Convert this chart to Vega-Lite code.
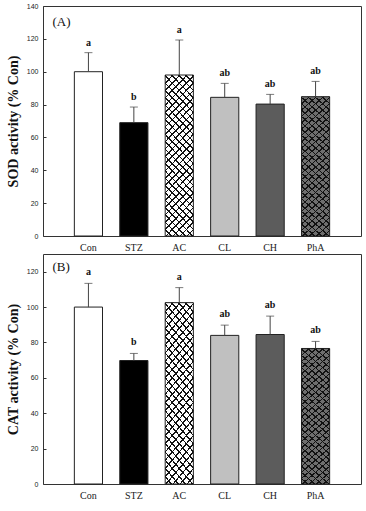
{
  "$schema": "https://vega.github.io/schema/vega-lite/v6.json",
  "padding": {"left": 5, "top": 1, "right": 3, "bottom": 3},
  "spacing": 0,
  "datasets": {
    "enzymes": [
      {"panel": "A", "group": "Con", "mean": 100, "upper": 111.6, "letter": "a"},
      {"panel": "A", "group": "STZ", "mean": 69, "upper": 78.5, "letter": "b"},
      {"panel": "A", "group": "AC", "mean": 98, "upper": 119.3, "letter": "a"},
      {"panel": "A", "group": "CL", "mean": 84.4, "upper": 92.9, "letter": "ab"},
      {"panel": "A", "group": "CH", "mean": 80.3, "upper": 86.2, "letter": "ab"},
      {"panel": "A", "group": "PhA", "mean": 84.8, "upper": 94.1, "letter": "ab"},
      {"panel": "B", "group": "Con", "mean": 100, "upper": 113.4, "letter": "a"},
      {"panel": "B", "group": "STZ", "mean": 69.8, "upper": 73.8, "letter": "b"},
      {"panel": "B", "group": "AC", "mean": 102.5, "upper": 111, "letter": "a"},
      {"panel": "B", "group": "CL", "mean": 84, "upper": 89.8, "letter": "ab"},
      {"panel": "B", "group": "CH", "mean": 84.5, "upper": 94.9, "letter": "ab"},
      {"panel": "B", "group": "PhA", "mean": 76.6, "upper": 80.6, "letter": "ab"}
    ]
  },
  "config": {
    "view": {"stroke": "#333", "strokeWidth": 1},
    "axis": {"grid": false, "domain": false, "labelColor": "#222", "titleColor": "#111"},
    "axisX": {"ticks": false, "labelFont": "Liberation Serif", "labelFontSize": 10, "labelPadding": 6, "labelAngle": 0},
    "axisY": {"labelFont": "Liberation Sans", "labelFontSize": 7, "labelOverlap": false, "labelBound": false, "tickSize": -3, "tickColor": "#333", "labelPadding": 8, "titleFont": "Liberation Serif", "titleFontSize": 14, "titleFontWeight": "bold", "titlePadding": 6},
    "text": {"font": "Liberation Serif", "color": "#111"}
  },
  "vconcat": [
    {
      "width": 318,
      "height": 230,
      "data": {"name": "enzymes"},
      "transform": [{"filter": "datum.panel === 'A'"}],
      "encoding": {
        "x": {"field": "group", "type": "nominal", "sort": ["Con", "STZ", "AC", "CL", "CH", "PhA"], "scale": {"paddingInner": 0.38, "paddingOuter": 0.69}, "axis": {"title": null}}
      },
      "layer": [
        {
          "mark": {"type": "bar", "stroke": "#222", "strokeWidth": 1},
          "encoding": {
            "y": {"field": "mean", "type": "quantitative", "scale": {"domain": [0, 140]}, "axis": {"title": "SOD activity (% Con)", "values": [0, 20, 40, 60, 80, 100, 120, 140], "labelOverlap": false}},
            "fill": {"field": "group", "type": "nominal", "scale": {"domain": ["Con", "STZ", "AC", "CL", "CH", "PhA"], "range": ["#ffffff", "#000000", "#ffffff", "#c0c0c0", "#5c5c5c", "#6e6e6e"]}, "legend": null}
          }
        },
        {
          "transform": [{"filter": "datum.group === 'AC' || datum.group === 'PhA'"}],
          "mark": {"type": "bar", "strokeWidth": 0, "fill": {"gradient": "linear", "x1": 0, "y1": 0, "x2": 0.208, "y2": 1.144, "stops": [
            {"offset": 0, "color": "#111"}, {"offset": 0.0085, "color": "#111"}, {"offset": 0.0085, "color": "rgba(0,0,0,0)"}, {"offset": 0.03846, "color": "rgba(0,0,0,0)"},
            {"offset": 0.03846, "color": "#111"}, {"offset": 0.04696, "color": "#111"}, {"offset": 0.04696, "color": "rgba(0,0,0,0)"}, {"offset": 0.07692, "color": "rgba(0,0,0,0)"},
            {"offset": 0.07692, "color": "#111"}, {"offset": 0.08542, "color": "#111"}, {"offset": 0.08542, "color": "rgba(0,0,0,0)"}, {"offset": 0.11538, "color": "rgba(0,0,0,0)"},
            {"offset": 0.11538, "color": "#111"}, {"offset": 0.12388, "color": "#111"}, {"offset": 0.12388, "color": "rgba(0,0,0,0)"}, {"offset": 0.15385, "color": "rgba(0,0,0,0)"},
            {"offset": 0.15385, "color": "#111"}, {"offset": 0.16235, "color": "#111"}, {"offset": 0.16235, "color": "rgba(0,0,0,0)"}, {"offset": 0.19231, "color": "rgba(0,0,0,0)"},
            {"offset": 0.19231, "color": "#111"}, {"offset": 0.20081, "color": "#111"}, {"offset": 0.20081, "color": "rgba(0,0,0,0)"}, {"offset": 0.23077, "color": "rgba(0,0,0,0)"},
            {"offset": 0.23077, "color": "#111"}, {"offset": 0.23927, "color": "#111"}, {"offset": 0.23927, "color": "rgba(0,0,0,0)"}, {"offset": 0.26923, "color": "rgba(0,0,0,0)"},
            {"offset": 0.26923, "color": "#111"}, {"offset": 0.27773, "color": "#111"}, {"offset": 0.27773, "color": "rgba(0,0,0,0)"}, {"offset": 0.30769, "color": "rgba(0,0,0,0)"},
            {"offset": 0.30769, "color": "#111"}, {"offset": 0.31619, "color": "#111"}, {"offset": 0.31619, "color": "rgba(0,0,0,0)"}, {"offset": 0.34615, "color": "rgba(0,0,0,0)"},
            {"offset": 0.34615, "color": "#111"}, {"offset": 0.35465, "color": "#111"}, {"offset": 0.35465, "color": "rgba(0,0,0,0)"}, {"offset": 0.38462, "color": "rgba(0,0,0,0)"},
            {"offset": 0.38462, "color": "#111"}, {"offset": 0.39312, "color": "#111"}, {"offset": 0.39312, "color": "rgba(0,0,0,0)"}, {"offset": 0.42308, "color": "rgba(0,0,0,0)"},
            {"offset": 0.42308, "color": "#111"}, {"offset": 0.43158, "color": "#111"}, {"offset": 0.43158, "color": "rgba(0,0,0,0)"}, {"offset": 0.46154, "color": "rgba(0,0,0,0)"},
            {"offset": 0.46154, "color": "#111"}, {"offset": 0.47004, "color": "#111"}, {"offset": 0.47004, "color": "rgba(0,0,0,0)"}, {"offset": 0.5, "color": "rgba(0,0,0,0)"},
            {"offset": 0.5, "color": "#111"}, {"offset": 0.5085, "color": "#111"}, {"offset": 0.5085, "color": "rgba(0,0,0,0)"}, {"offset": 0.53846, "color": "rgba(0,0,0,0)"},
            {"offset": 0.53846, "color": "#111"}, {"offset": 0.54696, "color": "#111"}, {"offset": 0.54696, "color": "rgba(0,0,0,0)"}, {"offset": 0.57692, "color": "rgba(0,0,0,0)"},
            {"offset": 0.57692, "color": "#111"}, {"offset": 0.58542, "color": "#111"}, {"offset": 0.58542, "color": "rgba(0,0,0,0)"}, {"offset": 0.61538, "color": "rgba(0,0,0,0)"},
            {"offset": 0.61538, "color": "#111"}, {"offset": 0.62388, "color": "#111"}, {"offset": 0.62388, "color": "rgba(0,0,0,0)"}, {"offset": 0.65385, "color": "rgba(0,0,0,0)"},
            {"offset": 0.65385, "color": "#111"}, {"offset": 0.66235, "color": "#111"}, {"offset": 0.66235, "color": "rgba(0,0,0,0)"}, {"offset": 0.69231, "color": "rgba(0,0,0,0)"},
            {"offset": 0.69231, "color": "#111"}, {"offset": 0.70081, "color": "#111"}, {"offset": 0.70081, "color": "rgba(0,0,0,0)"}, {"offset": 0.73077, "color": "rgba(0,0,0,0)"},
            {"offset": 0.73077, "color": "#111"}, {"offset": 0.73927, "color": "#111"}, {"offset": 0.73927, "color": "rgba(0,0,0,0)"}, {"offset": 0.76923, "color": "rgba(0,0,0,0)"},
            {"offset": 0.76923, "color": "#111"}, {"offset": 0.77773, "color": "#111"}, {"offset": 0.77773, "color": "rgba(0,0,0,0)"}, {"offset": 0.80769, "color": "rgba(0,0,0,0)"},
            {"offset": 0.80769, "color": "#111"}, {"offset": 0.81619, "color": "#111"}, {"offset": 0.81619, "color": "rgba(0,0,0,0)"}, {"offset": 0.84615, "color": "rgba(0,0,0,0)"},
            {"offset": 0.84615, "color": "#111"}, {"offset": 0.85465, "color": "#111"}, {"offset": 0.85465, "color": "rgba(0,0,0,0)"}, {"offset": 0.88462, "color": "rgba(0,0,0,0)"},
            {"offset": 0.88462, "color": "#111"}, {"offset": 0.89312, "color": "#111"}, {"offset": 0.89312, "color": "rgba(0,0,0,0)"}, {"offset": 0.92308, "color": "rgba(0,0,0,0)"},
            {"offset": 0.92308, "color": "#111"}, {"offset": 0.93158, "color": "#111"}, {"offset": 0.93158, "color": "rgba(0,0,0,0)"}, {"offset": 0.96154, "color": "rgba(0,0,0,0)"},
            {"offset": 0.96154, "color": "#111"}, {"offset": 0.97004, "color": "#111"}, {"offset": 0.97004, "color": "rgba(0,0,0,0)"}, {"offset": 1, "color": "rgba(0,0,0,0)"}
          ]}},
          "encoding": {"y": {"field": "mean", "type": "quantitative", "axis": {"title": "SOD activity (% Con)", "values": [0, 20, 40, 60, 80, 100, 120, 140], "labelOverlap": false}}}
        },
        {
          "transform": [{"filter": "datum.group === 'AC' || datum.group === 'PhA'"}],
          "mark": {"type": "bar", "strokeWidth": 0, "fill": {"gradient": "linear", "x1": 1, "y1": 0, "x2": 0.792, "y2": 1.144, "stops": [
            {"offset": 0, "color": "#111"}, {"offset": 0.0085, "color": "#111"}, {"offset": 0.0085, "color": "rgba(0,0,0,0)"}, {"offset": 0.03846, "color": "rgba(0,0,0,0)"},
            {"offset": 0.03846, "color": "#111"}, {"offset": 0.04696, "color": "#111"}, {"offset": 0.04696, "color": "rgba(0,0,0,0)"}, {"offset": 0.07692, "color": "rgba(0,0,0,0)"},
            {"offset": 0.07692, "color": "#111"}, {"offset": 0.08542, "color": "#111"}, {"offset": 0.08542, "color": "rgba(0,0,0,0)"}, {"offset": 0.11538, "color": "rgba(0,0,0,0)"},
            {"offset": 0.11538, "color": "#111"}, {"offset": 0.12388, "color": "#111"}, {"offset": 0.12388, "color": "rgba(0,0,0,0)"}, {"offset": 0.15385, "color": "rgba(0,0,0,0)"},
            {"offset": 0.15385, "color": "#111"}, {"offset": 0.16235, "color": "#111"}, {"offset": 0.16235, "color": "rgba(0,0,0,0)"}, {"offset": 0.19231, "color": "rgba(0,0,0,0)"},
            {"offset": 0.19231, "color": "#111"}, {"offset": 0.20081, "color": "#111"}, {"offset": 0.20081, "color": "rgba(0,0,0,0)"}, {"offset": 0.23077, "color": "rgba(0,0,0,0)"},
            {"offset": 0.23077, "color": "#111"}, {"offset": 0.23927, "color": "#111"}, {"offset": 0.23927, "color": "rgba(0,0,0,0)"}, {"offset": 0.26923, "color": "rgba(0,0,0,0)"},
            {"offset": 0.26923, "color": "#111"}, {"offset": 0.27773, "color": "#111"}, {"offset": 0.27773, "color": "rgba(0,0,0,0)"}, {"offset": 0.30769, "color": "rgba(0,0,0,0)"},
            {"offset": 0.30769, "color": "#111"}, {"offset": 0.31619, "color": "#111"}, {"offset": 0.31619, "color": "rgba(0,0,0,0)"}, {"offset": 0.34615, "color": "rgba(0,0,0,0)"},
            {"offset": 0.34615, "color": "#111"}, {"offset": 0.35465, "color": "#111"}, {"offset": 0.35465, "color": "rgba(0,0,0,0)"}, {"offset": 0.38462, "color": "rgba(0,0,0,0)"},
            {"offset": 0.38462, "color": "#111"}, {"offset": 0.39312, "color": "#111"}, {"offset": 0.39312, "color": "rgba(0,0,0,0)"}, {"offset": 0.42308, "color": "rgba(0,0,0,0)"},
            {"offset": 0.42308, "color": "#111"}, {"offset": 0.43158, "color": "#111"}, {"offset": 0.43158, "color": "rgba(0,0,0,0)"}, {"offset": 0.46154, "color": "rgba(0,0,0,0)"},
            {"offset": 0.46154, "color": "#111"}, {"offset": 0.47004, "color": "#111"}, {"offset": 0.47004, "color": "rgba(0,0,0,0)"}, {"offset": 0.5, "color": "rgba(0,0,0,0)"},
            {"offset": 0.5, "color": "#111"}, {"offset": 0.5085, "color": "#111"}, {"offset": 0.5085, "color": "rgba(0,0,0,0)"}, {"offset": 0.53846, "color": "rgba(0,0,0,0)"},
            {"offset": 0.53846, "color": "#111"}, {"offset": 0.54696, "color": "#111"}, {"offset": 0.54696, "color": "rgba(0,0,0,0)"}, {"offset": 0.57692, "color": "rgba(0,0,0,0)"},
            {"offset": 0.57692, "color": "#111"}, {"offset": 0.58542, "color": "#111"}, {"offset": 0.58542, "color": "rgba(0,0,0,0)"}, {"offset": 0.61538, "color": "rgba(0,0,0,0)"},
            {"offset": 0.61538, "color": "#111"}, {"offset": 0.62388, "color": "#111"}, {"offset": 0.62388, "color": "rgba(0,0,0,0)"}, {"offset": 0.65385, "color": "rgba(0,0,0,0)"},
            {"offset": 0.65385, "color": "#111"}, {"offset": 0.66235, "color": "#111"}, {"offset": 0.66235, "color": "rgba(0,0,0,0)"}, {"offset": 0.69231, "color": "rgba(0,0,0,0)"},
            {"offset": 0.69231, "color": "#111"}, {"offset": 0.70081, "color": "#111"}, {"offset": 0.70081, "color": "rgba(0,0,0,0)"}, {"offset": 0.73077, "color": "rgba(0,0,0,0)"},
            {"offset": 0.73077, "color": "#111"}, {"offset": 0.73927, "color": "#111"}, {"offset": 0.73927, "color": "rgba(0,0,0,0)"}, {"offset": 0.76923, "color": "rgba(0,0,0,0)"},
            {"offset": 0.76923, "color": "#111"}, {"offset": 0.77773, "color": "#111"}, {"offset": 0.77773, "color": "rgba(0,0,0,0)"}, {"offset": 0.80769, "color": "rgba(0,0,0,0)"},
            {"offset": 0.80769, "color": "#111"}, {"offset": 0.81619, "color": "#111"}, {"offset": 0.81619, "color": "rgba(0,0,0,0)"}, {"offset": 0.84615, "color": "rgba(0,0,0,0)"},
            {"offset": 0.84615, "color": "#111"}, {"offset": 0.85465, "color": "#111"}, {"offset": 0.85465, "color": "rgba(0,0,0,0)"}, {"offset": 0.88462, "color": "rgba(0,0,0,0)"},
            {"offset": 0.88462, "color": "#111"}, {"offset": 0.89312, "color": "#111"}, {"offset": 0.89312, "color": "rgba(0,0,0,0)"}, {"offset": 0.92308, "color": "rgba(0,0,0,0)"},
            {"offset": 0.92308, "color": "#111"}, {"offset": 0.93158, "color": "#111"}, {"offset": 0.93158, "color": "rgba(0,0,0,0)"}, {"offset": 0.96154, "color": "rgba(0,0,0,0)"},
            {"offset": 0.96154, "color": "#111"}, {"offset": 0.97004, "color": "#111"}, {"offset": 0.97004, "color": "rgba(0,0,0,0)"}, {"offset": 1, "color": "rgba(0,0,0,0)"}
          ]}},
          "encoding": {"y": {"field": "mean", "type": "quantitative", "axis": {"title": "SOD activity (% Con)", "values": [0, 20, 40, 60, 80, 100, 120, 140], "labelOverlap": false}}}
        },
        {
          "mark": {"type": "rule", "color": "#444", "strokeWidth": 1},
          "encoding": {"y": {"field": "mean", "type": "quantitative", "axis": {"title": "SOD activity (% Con)", "values": [0, 20, 40, 60, 80, 100, 120, 140], "labelOverlap": false}}, "y2": {"field": "upper"}}
        },
        {
          "mark": {"type": "tick", "orient": "horizontal", "size": 8, "thickness": 1, "color": "#444"},
          "encoding": {"y": {"field": "upper", "type": "quantitative", "axis": {"title": "SOD activity (% Con)", "values": [0, 20, 40, 60, 80, 100, 120, 140], "labelOverlap": false}}}
        },
        {
          "mark": {"type": "text", "fontSize": 10, "fontWeight": "bold", "baseline": "alphabetic", "dy": -7},
          "encoding": {"y": {"field": "upper", "type": "quantitative", "axis": {"title": "SOD activity (% Con)", "values": [0, 20, 40, 60, 80, 100, 120, 140], "labelOverlap": false}}, "text": {"field": "letter"}}
        },
        {
          "data": {"values": [{"tag": "(A)"}]},
          "mark": {"type": "text", "fontSize": 13, "fontWeight": "normal", "align": "left", "baseline": "middle", "dx": -36},
          "encoding": {"x": {"datum": "Con"}, "y": {"datum": 130, "type": "quantitative", "axis": {"title": "SOD activity (% Con)", "values": [0, 20, 40, 60, 80, 100, 120, 140], "labelOverlap": false}}, "text": {"field": "tag"}}
        }
      ]
    },
    {
      "width": 318,
      "height": 230,
      "data": {"name": "enzymes"},
      "transform": [{"filter": "datum.panel === 'B'"}],
      "encoding": {
        "x": {"field": "group", "type": "nominal", "sort": ["Con", "STZ", "AC", "CL", "CH", "PhA"], "scale": {"paddingInner": 0.38, "paddingOuter": 0.69}, "axis": {"title": null}}
      },
      "layer": [
        {
          "mark": {"type": "bar", "stroke": "#222", "strokeWidth": 1},
          "encoding": {
            "y": {"field": "mean", "type": "quantitative", "scale": {"domain": [0, 130]}, "axis": {"title": "CAT activity (% Con)", "values": [0, 20, 40, 60, 80, 100, 120], "labelOverlap": false}},
            "fill": {"field": "group", "type": "nominal", "scale": {"domain": ["Con", "STZ", "AC", "CL", "CH", "PhA"], "range": ["#ffffff", "#000000", "#ffffff", "#c0c0c0", "#5c5c5c", "#6e6e6e"]}, "legend": null}
          }
        },
        {
          "transform": [{"filter": "datum.group === 'AC' || datum.group === 'PhA'"}],
          "mark": {"type": "bar", "strokeWidth": 0, "fill": {"gradient": "linear", "x1": 0, "y1": 0, "x2": 0.208, "y2": 1.144, "stops": [
            {"offset": 0, "color": "#111"}, {"offset": 0.0085, "color": "#111"}, {"offset": 0.0085, "color": "rgba(0,0,0,0)"}, {"offset": 0.03846, "color": "rgba(0,0,0,0)"},
            {"offset": 0.03846, "color": "#111"}, {"offset": 0.04696, "color": "#111"}, {"offset": 0.04696, "color": "rgba(0,0,0,0)"}, {"offset": 0.07692, "color": "rgba(0,0,0,0)"},
            {"offset": 0.07692, "color": "#111"}, {"offset": 0.08542, "color": "#111"}, {"offset": 0.08542, "color": "rgba(0,0,0,0)"}, {"offset": 0.11538, "color": "rgba(0,0,0,0)"},
            {"offset": 0.11538, "color": "#111"}, {"offset": 0.12388, "color": "#111"}, {"offset": 0.12388, "color": "rgba(0,0,0,0)"}, {"offset": 0.15385, "color": "rgba(0,0,0,0)"},
            {"offset": 0.15385, "color": "#111"}, {"offset": 0.16235, "color": "#111"}, {"offset": 0.16235, "color": "rgba(0,0,0,0)"}, {"offset": 0.19231, "color": "rgba(0,0,0,0)"},
            {"offset": 0.19231, "color": "#111"}, {"offset": 0.20081, "color": "#111"}, {"offset": 0.20081, "color": "rgba(0,0,0,0)"}, {"offset": 0.23077, "color": "rgba(0,0,0,0)"},
            {"offset": 0.23077, "color": "#111"}, {"offset": 0.23927, "color": "#111"}, {"offset": 0.23927, "color": "rgba(0,0,0,0)"}, {"offset": 0.26923, "color": "rgba(0,0,0,0)"},
            {"offset": 0.26923, "color": "#111"}, {"offset": 0.27773, "color": "#111"}, {"offset": 0.27773, "color": "rgba(0,0,0,0)"}, {"offset": 0.30769, "color": "rgba(0,0,0,0)"},
            {"offset": 0.30769, "color": "#111"}, {"offset": 0.31619, "color": "#111"}, {"offset": 0.31619, "color": "rgba(0,0,0,0)"}, {"offset": 0.34615, "color": "rgba(0,0,0,0)"},
            {"offset": 0.34615, "color": "#111"}, {"offset": 0.35465, "color": "#111"}, {"offset": 0.35465, "color": "rgba(0,0,0,0)"}, {"offset": 0.38462, "color": "rgba(0,0,0,0)"},
            {"offset": 0.38462, "color": "#111"}, {"offset": 0.39312, "color": "#111"}, {"offset": 0.39312, "color": "rgba(0,0,0,0)"}, {"offset": 0.42308, "color": "rgba(0,0,0,0)"},
            {"offset": 0.42308, "color": "#111"}, {"offset": 0.43158, "color": "#111"}, {"offset": 0.43158, "color": "rgba(0,0,0,0)"}, {"offset": 0.46154, "color": "rgba(0,0,0,0)"},
            {"offset": 0.46154, "color": "#111"}, {"offset": 0.47004, "color": "#111"}, {"offset": 0.47004, "color": "rgba(0,0,0,0)"}, {"offset": 0.5, "color": "rgba(0,0,0,0)"},
            {"offset": 0.5, "color": "#111"}, {"offset": 0.5085, "color": "#111"}, {"offset": 0.5085, "color": "rgba(0,0,0,0)"}, {"offset": 0.53846, "color": "rgba(0,0,0,0)"},
            {"offset": 0.53846, "color": "#111"}, {"offset": 0.54696, "color": "#111"}, {"offset": 0.54696, "color": "rgba(0,0,0,0)"}, {"offset": 0.57692, "color": "rgba(0,0,0,0)"},
            {"offset": 0.57692, "color": "#111"}, {"offset": 0.58542, "color": "#111"}, {"offset": 0.58542, "color": "rgba(0,0,0,0)"}, {"offset": 0.61538, "color": "rgba(0,0,0,0)"},
            {"offset": 0.61538, "color": "#111"}, {"offset": 0.62388, "color": "#111"}, {"offset": 0.62388, "color": "rgba(0,0,0,0)"}, {"offset": 0.65385, "color": "rgba(0,0,0,0)"},
            {"offset": 0.65385, "color": "#111"}, {"offset": 0.66235, "color": "#111"}, {"offset": 0.66235, "color": "rgba(0,0,0,0)"}, {"offset": 0.69231, "color": "rgba(0,0,0,0)"},
            {"offset": 0.69231, "color": "#111"}, {"offset": 0.70081, "color": "#111"}, {"offset": 0.70081, "color": "rgba(0,0,0,0)"}, {"offset": 0.73077, "color": "rgba(0,0,0,0)"},
            {"offset": 0.73077, "color": "#111"}, {"offset": 0.73927, "color": "#111"}, {"offset": 0.73927, "color": "rgba(0,0,0,0)"}, {"offset": 0.76923, "color": "rgba(0,0,0,0)"},
            {"offset": 0.76923, "color": "#111"}, {"offset": 0.77773, "color": "#111"}, {"offset": 0.77773, "color": "rgba(0,0,0,0)"}, {"offset": 0.80769, "color": "rgba(0,0,0,0)"},
            {"offset": 0.80769, "color": "#111"}, {"offset": 0.81619, "color": "#111"}, {"offset": 0.81619, "color": "rgba(0,0,0,0)"}, {"offset": 0.84615, "color": "rgba(0,0,0,0)"},
            {"offset": 0.84615, "color": "#111"}, {"offset": 0.85465, "color": "#111"}, {"offset": 0.85465, "color": "rgba(0,0,0,0)"}, {"offset": 0.88462, "color": "rgba(0,0,0,0)"},
            {"offset": 0.88462, "color": "#111"}, {"offset": 0.89312, "color": "#111"}, {"offset": 0.89312, "color": "rgba(0,0,0,0)"}, {"offset": 0.92308, "color": "rgba(0,0,0,0)"},
            {"offset": 0.92308, "color": "#111"}, {"offset": 0.93158, "color": "#111"}, {"offset": 0.93158, "color": "rgba(0,0,0,0)"}, {"offset": 0.96154, "color": "rgba(0,0,0,0)"},
            {"offset": 0.96154, "color": "#111"}, {"offset": 0.97004, "color": "#111"}, {"offset": 0.97004, "color": "rgba(0,0,0,0)"}, {"offset": 1, "color": "rgba(0,0,0,0)"}
          ]}},
          "encoding": {"y": {"field": "mean", "type": "quantitative", "axis": {"title": "CAT activity (% Con)", "values": [0, 20, 40, 60, 80, 100, 120], "labelOverlap": false}}}
        },
        {
          "transform": [{"filter": "datum.group === 'AC' || datum.group === 'PhA'"}],
          "mark": {"type": "bar", "strokeWidth": 0, "fill": {"gradient": "linear", "x1": 1, "y1": 0, "x2": 0.792, "y2": 1.144, "stops": [
            {"offset": 0, "color": "#111"}, {"offset": 0.0085, "color": "#111"}, {"offset": 0.0085, "color": "rgba(0,0,0,0)"}, {"offset": 0.03846, "color": "rgba(0,0,0,0)"},
            {"offset": 0.03846, "color": "#111"}, {"offset": 0.04696, "color": "#111"}, {"offset": 0.04696, "color": "rgba(0,0,0,0)"}, {"offset": 0.07692, "color": "rgba(0,0,0,0)"},
            {"offset": 0.07692, "color": "#111"}, {"offset": 0.08542, "color": "#111"}, {"offset": 0.08542, "color": "rgba(0,0,0,0)"}, {"offset": 0.11538, "color": "rgba(0,0,0,0)"},
            {"offset": 0.11538, "color": "#111"}, {"offset": 0.12388, "color": "#111"}, {"offset": 0.12388, "color": "rgba(0,0,0,0)"}, {"offset": 0.15385, "color": "rgba(0,0,0,0)"},
            {"offset": 0.15385, "color": "#111"}, {"offset": 0.16235, "color": "#111"}, {"offset": 0.16235, "color": "rgba(0,0,0,0)"}, {"offset": 0.19231, "color": "rgba(0,0,0,0)"},
            {"offset": 0.19231, "color": "#111"}, {"offset": 0.20081, "color": "#111"}, {"offset": 0.20081, "color": "rgba(0,0,0,0)"}, {"offset": 0.23077, "color": "rgba(0,0,0,0)"},
            {"offset": 0.23077, "color": "#111"}, {"offset": 0.23927, "color": "#111"}, {"offset": 0.23927, "color": "rgba(0,0,0,0)"}, {"offset": 0.26923, "color": "rgba(0,0,0,0)"},
            {"offset": 0.26923, "color": "#111"}, {"offset": 0.27773, "color": "#111"}, {"offset": 0.27773, "color": "rgba(0,0,0,0)"}, {"offset": 0.30769, "color": "rgba(0,0,0,0)"},
            {"offset": 0.30769, "color": "#111"}, {"offset": 0.31619, "color": "#111"}, {"offset": 0.31619, "color": "rgba(0,0,0,0)"}, {"offset": 0.34615, "color": "rgba(0,0,0,0)"},
            {"offset": 0.34615, "color": "#111"}, {"offset": 0.35465, "color": "#111"}, {"offset": 0.35465, "color": "rgba(0,0,0,0)"}, {"offset": 0.38462, "color": "rgba(0,0,0,0)"},
            {"offset": 0.38462, "color": "#111"}, {"offset": 0.39312, "color": "#111"}, {"offset": 0.39312, "color": "rgba(0,0,0,0)"}, {"offset": 0.42308, "color": "rgba(0,0,0,0)"},
            {"offset": 0.42308, "color": "#111"}, {"offset": 0.43158, "color": "#111"}, {"offset": 0.43158, "color": "rgba(0,0,0,0)"}, {"offset": 0.46154, "color": "rgba(0,0,0,0)"},
            {"offset": 0.46154, "color": "#111"}, {"offset": 0.47004, "color": "#111"}, {"offset": 0.47004, "color": "rgba(0,0,0,0)"}, {"offset": 0.5, "color": "rgba(0,0,0,0)"},
            {"offset": 0.5, "color": "#111"}, {"offset": 0.5085, "color": "#111"}, {"offset": 0.5085, "color": "rgba(0,0,0,0)"}, {"offset": 0.53846, "color": "rgba(0,0,0,0)"},
            {"offset": 0.53846, "color": "#111"}, {"offset": 0.54696, "color": "#111"}, {"offset": 0.54696, "color": "rgba(0,0,0,0)"}, {"offset": 0.57692, "color": "rgba(0,0,0,0)"},
            {"offset": 0.57692, "color": "#111"}, {"offset": 0.58542, "color": "#111"}, {"offset": 0.58542, "color": "rgba(0,0,0,0)"}, {"offset": 0.61538, "color": "rgba(0,0,0,0)"},
            {"offset": 0.61538, "color": "#111"}, {"offset": 0.62388, "color": "#111"}, {"offset": 0.62388, "color": "rgba(0,0,0,0)"}, {"offset": 0.65385, "color": "rgba(0,0,0,0)"},
            {"offset": 0.65385, "color": "#111"}, {"offset": 0.66235, "color": "#111"}, {"offset": 0.66235, "color": "rgba(0,0,0,0)"}, {"offset": 0.69231, "color": "rgba(0,0,0,0)"},
            {"offset": 0.69231, "color": "#111"}, {"offset": 0.70081, "color": "#111"}, {"offset": 0.70081, "color": "rgba(0,0,0,0)"}, {"offset": 0.73077, "color": "rgba(0,0,0,0)"},
            {"offset": 0.73077, "color": "#111"}, {"offset": 0.73927, "color": "#111"}, {"offset": 0.73927, "color": "rgba(0,0,0,0)"}, {"offset": 0.76923, "color": "rgba(0,0,0,0)"},
            {"offset": 0.76923, "color": "#111"}, {"offset": 0.77773, "color": "#111"}, {"offset": 0.77773, "color": "rgba(0,0,0,0)"}, {"offset": 0.80769, "color": "rgba(0,0,0,0)"},
            {"offset": 0.80769, "color": "#111"}, {"offset": 0.81619, "color": "#111"}, {"offset": 0.81619, "color": "rgba(0,0,0,0)"}, {"offset": 0.84615, "color": "rgba(0,0,0,0)"},
            {"offset": 0.84615, "color": "#111"}, {"offset": 0.85465, "color": "#111"}, {"offset": 0.85465, "color": "rgba(0,0,0,0)"}, {"offset": 0.88462, "color": "rgba(0,0,0,0)"},
            {"offset": 0.88462, "color": "#111"}, {"offset": 0.89312, "color": "#111"}, {"offset": 0.89312, "color": "rgba(0,0,0,0)"}, {"offset": 0.92308, "color": "rgba(0,0,0,0)"},
            {"offset": 0.92308, "color": "#111"}, {"offset": 0.93158, "color": "#111"}, {"offset": 0.93158, "color": "rgba(0,0,0,0)"}, {"offset": 0.96154, "color": "rgba(0,0,0,0)"},
            {"offset": 0.96154, "color": "#111"}, {"offset": 0.97004, "color": "#111"}, {"offset": 0.97004, "color": "rgba(0,0,0,0)"}, {"offset": 1, "color": "rgba(0,0,0,0)"}
          ]}},
          "encoding": {"y": {"field": "mean", "type": "quantitative", "axis": {"title": "CAT activity (% Con)", "values": [0, 20, 40, 60, 80, 100, 120], "labelOverlap": false}}}
        },
        {
          "mark": {"type": "rule", "color": "#444", "strokeWidth": 1},
          "encoding": {"y": {"field": "mean", "type": "quantitative", "axis": {"title": "CAT activity (% Con)", "values": [0, 20, 40, 60, 80, 100, 120], "labelOverlap": false}}, "y2": {"field": "upper"}}
        },
        {
          "mark": {"type": "tick", "orient": "horizontal", "size": 8, "thickness": 1, "color": "#444"},
          "encoding": {"y": {"field": "upper", "type": "quantitative", "axis": {"title": "CAT activity (% Con)", "values": [0, 20, 40, 60, 80, 100, 120], "labelOverlap": false}}}
        },
        {
          "mark": {"type": "text", "fontSize": 10, "fontWeight": "bold", "baseline": "alphabetic", "dy": -8},
          "encoding": {"y": {"field": "upper", "type": "quantitative", "axis": {"title": "CAT activity (% Con)", "values": [0, 20, 40, 60, 80, 100, 120], "labelOverlap": false}}, "text": {"field": "letter"}}
        },
        {
          "data": {"values": [{"tag": "(B)"}]},
          "mark": {"type": "text", "fontSize": 13, "fontWeight": "normal", "align": "left", "baseline": "middle", "dx": -36},
          "encoding": {"x": {"datum": "Con"}, "y": {"datum": 122.5, "type": "quantitative", "axis": {"title": "CAT activity (% Con)", "values": [0, 20, 40, 60, 80, 100, 120], "labelOverlap": false}}, "text": {"field": "tag"}}
        }
      ]
    }
  ]
}
